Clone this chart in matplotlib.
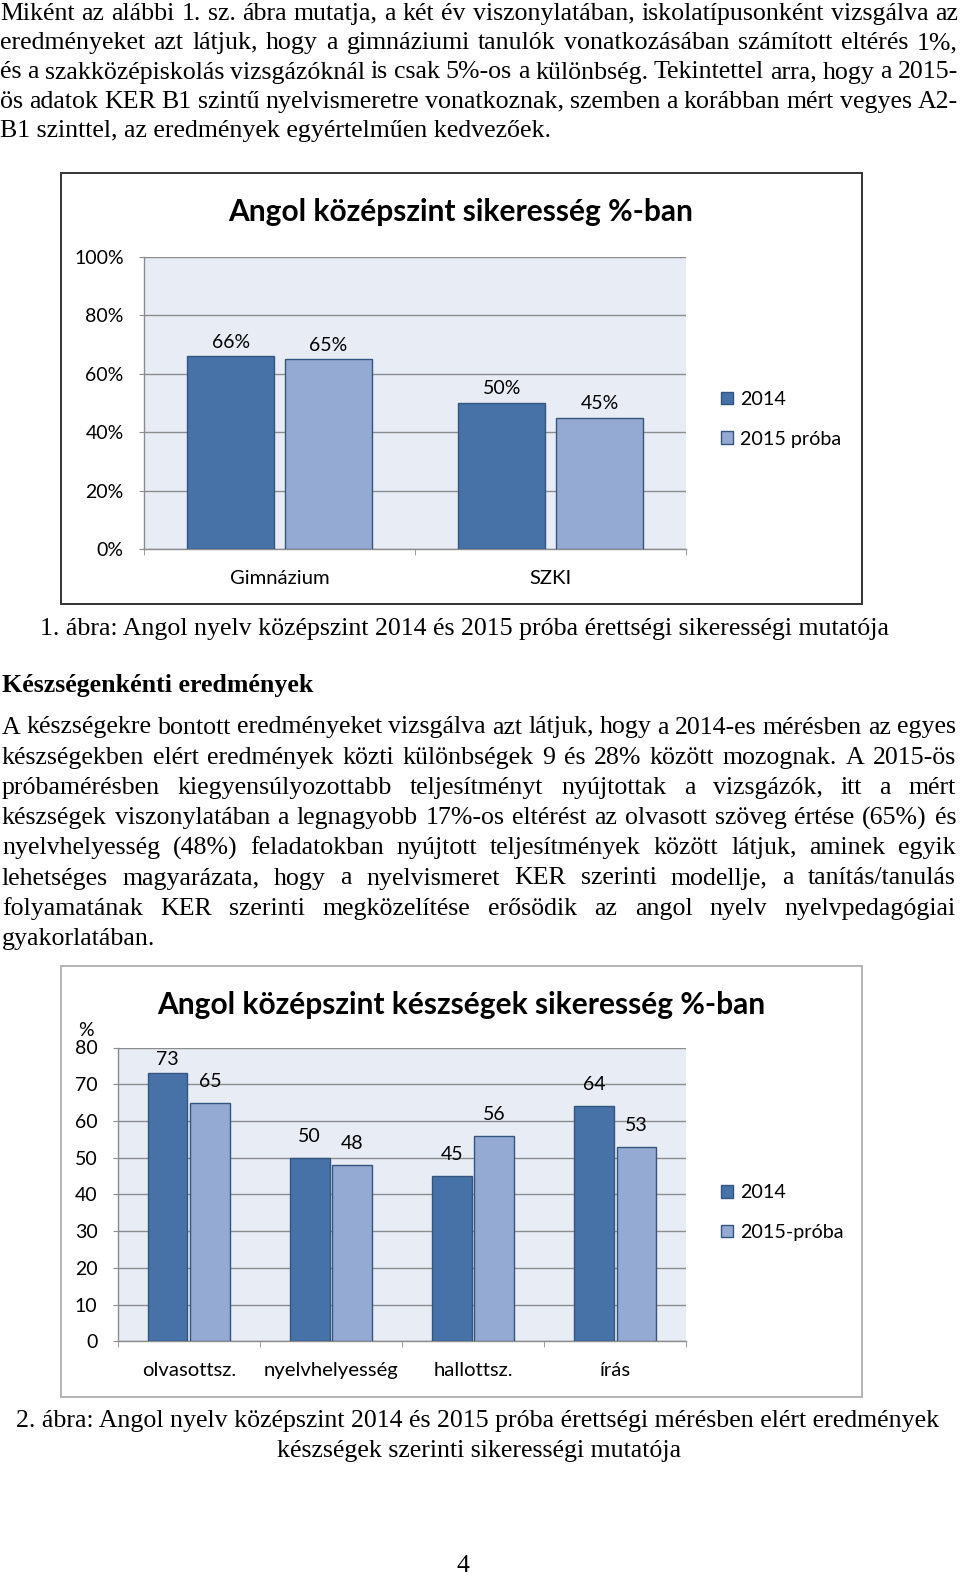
import matplotlib
matplotlib.use('Agg')
import matplotlib.pyplot as plt
from matplotlib.patches import Rectangle

# ---------------- data ----------------
cats1 = ['Gimnázium', 'SZKI']
series1_names = ['2014', '2015 próba']
vals1_2014 = [66, 50]
vals1_2015 = [65, 45]
yticks1 = [0, 20, 40, 60, 80, 100]

cats2 = ['olvasottsz.', 'nyelvhelyesség', 'hallottsz.', 'írás']
series2_names = ['2014', '2015-próba']
vals2_2014 = [73, 50, 45, 64]
vals2_2015 = [65, 48, 56, 53]
yticks2 = [0, 10, 20, 30, 40, 50, 60, 70, 80]

title1 = 'Angol középszint sikeresség %-ban'
title2 = 'Angol középszint készségek sikeresség %-ban'

para1 = [
    'Miként az alábbi 1. sz. ábra mutatja, a két év viszonylatában, iskolatípusonként vizsgálva az',
    'eredményeket azt látjuk, hogy a gimnáziumi tanulók vonatkozásában számított eltérés 1%,',
    'és a szakközépiskolás vizsgázóknál is csak 5%-os a különbség. Tekintettel arra, hogy a 2015-',
    'ös adatok KER B1 szintű nyelvismeretre vonatkoznak, szemben a korábban mért vegyes A2-',
    'B1 szinttel, az eredmények egyértelműen kedvezőek.',
]
caption1 = '1. ábra: Angol nyelv középszint 2014 és 2015 próba érettségi sikerességi mutatója'
heading = 'Készségenkénti eredmények'
para2 = [
    'A készségekre bontott eredményeket vizsgálva azt látjuk, hogy a 2014-es mérésben az egyes',
    'készségekben elért eredmények közti különbségek 9 és 28% között mozognak. A 2015-ös',
    'próbamérésben kiegyensúlyozottabb teljesítményt nyújtottak a vizsgázók, itt a mért',
    'készségek viszonylatában a legnagyobb 17%-os eltérést az olvasott szöveg értése (65%) és',
    'nyelvhelyesség (48%) feladatokban nyújtott teljesítmények között látjuk, aminek egyik',
    'lehetséges magyarázata, hogy a nyelvismeret KER szerinti modellje, a tanítás/tanulás',
    'folyamatának KER szerinti megközelítése erősödik az angol nyelv nyelvpedagógiai',
    'gyakorlatában.',
]
caption2 = ['2. ábra: Angol nyelv középszint 2014 és 2015 próba érettségi mérésben elért eredmények',
            'készségek szerinti sikerességi mutatója']
page_no = '4'

# ---------------- styling ----------------
W, H, DPI = 960, 1578, 100
SERIF = ['Liberation Serif', 'DejaVu Serif']
SANS = ['Lato', 'DejaVu Sans']
C_DARK = '#4672A8'
C_LIGHT = '#95AAD2'
C_EDGE = '#34557F'
C_BG = '#E8EDF5'
C_GRID = '#8C8C8C'

fig = plt.figure(figsize=(W / DPI, H / DPI), dpi=DPI)
fig.patch.set_facecolor('white')
renderer = fig.canvas.get_renderer()


def fx(x):
    return x / W


def fy(y):
    return 1 - y / H


def twidth(s, size, weight='normal', family=SERIF):
    t = fig.text(0, 0, s, fontsize=size, family=family, weight=weight)
    w = t.get_window_extent(renderer).width
    t.remove()
    return w


# body font size fitted so that the last (free) line matches its width
BODY = 18 * 552 / twidth(para1[-1], 18)


def put_line(s, y, x0, x1=None, size=BODY, weight='normal'):
    if x1 is None:
        fig.text(fx(x0), fy(y), s, fontsize=size, family=SERIF, weight=weight,
                 ha='left', va='center')
        return
    words = s.split(' ')
    ws = [twidth(w, size, weight) for w in words]
    gap = (x1 - x0 - sum(ws)) / (len(words) - 1)
    x = x0
    for w, ww in zip(words, ws):
        fig.text(fx(x), fy(y), w, fontsize=size, family=SERIF, weight=weight,
                 ha='left', va='center')
        x += ww + gap


# top paragraph
ys1 = [14.1, 43.3, 72.5, 101.6, 130.8]
for i, (s, y) in enumerate(zip(para1, ys1)):
    put_line(s, y, 0, None if i == len(para1) - 1 else 958)

fig.text(fx(464), fy(628.9), caption1, fontsize=BODY, family=SERIF, ha='center', va='center')
fig.text(fx(2), fy(685.3), heading, fontsize=BODY, family=SERIF, weight='bold', ha='left', va='center')

ys2 = [727.5, 757.7, 787.9, 818.1, 848.3, 878.5, 908.7, 938.9]
for i, (s, y) in enumerate(zip(para2, ys2)):
    put_line(s, y, 2, None if i == len(para2) - 1 else 956)

fig.text(fx(478), fy(1420.9), caption2[0], fontsize=BODY, family=SERIF, ha='center', va='center')
fig.text(fx(479), fy(1451.1), caption2[1], fontsize=BODY, family=SERIF, ha='center', va='center')
fig.text(fx(462.9), fy(1565.8), page_no, fontsize=BODY, family=SERIF, ha='center', va='center')

# chart frames
fig.add_artist(Rectangle((fx(61.4), fy(603.8)), fx(862.4 - 61.4), (603.8 - 173.1) / H,
                         transform=fig.transFigure, fill=False, ec='#333333', lw=1.4))
fig.add_artist(Rectangle((fx(61.4), fy(1396.7)), fx(862.4 - 61.4), (1396.7 - 966) / H,
                         transform=fig.transFigure, fill=False, ec='#B4B4B4', lw=1.4))

TICK = 14
CAT = 14.6
LEG = 14.2
TITLE = 21.5


def chart(rect, cats, v1, v2, names, yticks, ylabfmt, width, off, lab_fmt, lab_off,
          lab_cap, title, title_xy, legend_y):
    x0, y0, x1, y1 = rect
    ax = fig.add_axes([fx(x0), fy(y1), fx(x1 - x0), (y1 - y0) / H])
    ax.set_facecolor(C_BG)
    n = len(cats)
    xs = list(range(n))
    b1 = ax.bar([x - off for x in xs], v1, width, color=C_DARK, edgecolor=C_EDGE, lw=1, label=names[0], zorder=3)
    b2 = ax.bar([x + off for x in xs], v2, width, color=C_LIGHT, edgecolor=C_EDGE, lw=1, label=names[1], zorder=3)
    ax.set_xlim(-0.5, n - 0.5)
    ax.set_ylim(yticks[0], yticks[-1])
    ax.set_yticks(yticks)
    ax.set_yticklabels([ylabfmt.format(t) for t in yticks], fontsize=TICK, family=SANS)
    ax.set_xticks(xs)
    ax.set_xticklabels(cats, fontsize=CAT, family=SANS)
    ax.set_xticks([i - 0.5 for i in range(n + 1)], minor=True)
    ax.tick_params(axis='x', which='major', length=0, pad=15)
    ax.tick_params(axis='x', which='minor', length=4.5, color=C_GRID, direction='out')
    ax.tick_params(axis='y', which='major', length=3.6, color=C_GRID, direction='out', pad=11)
    ax.yaxis.grid(True, color=C_GRID, lw=1)
    ax.set_axisbelow(True)
    for sp in ('top', 'right'):
        ax.spines[sp].set_visible(False)
    for sp in ('left', 'bottom'):
        ax.spines[sp].set_color(C_GRID)
        ax.spines[sp].set_linewidth(1)
    for xs_, vs in ((([x - off for x in xs]), v1), (([x + off for x in xs]), v2)):
        for x, v in zip(xs_, vs):
            ax.text(x, min(v + lab_off, lab_cap), lab_fmt.format(v), ha='center', va='center',
                    fontsize=TICK, family=SANS, color='black', zorder=4)
    fig.text(fx(title_xy[0]), fy(title_xy[1]), title, fontsize=TITLE, family=SANS,
             weight='bold', ha='center', va='center')
    ax.legend(handles=[b1, b2], loc='center left', bbox_to_anchor=(fx(720.5), fy(legend_y)),
              bbox_transform=fig.transFigure, frameon=False, prop={'family': SANS, 'size': LEG},
              handlelength=0.62, handleheight=0.62, handletextpad=0.35, labelspacing=1.15,
              borderpad=0, borderaxespad=0)
    return ax


ax1 = chart((143.9, 256.6, 686.3, 549.4), cats1, vals1_2014, vals1_2015, series1_names, yticks1,
            '{}%', 0.32, 0.18, '{}%', 4.8, 200, title1, (460.9, 212.5), 419.3)

ax2 = chart((117.7, 1047.5, 686.3, 1341.4), cats2, vals2_2014, vals2_2015, series2_names, yticks2,
            '{}', 0.28, 0.15, '{}', 5.8, 76.8, title2, (461.4, 1005.3), 1212.5)
fig.text(fx(85.5), fy(1030.5), '%', fontsize=TICK, family=SANS, ha='center', va='center')

fig.savefig('out.png', dpi=DPI)
